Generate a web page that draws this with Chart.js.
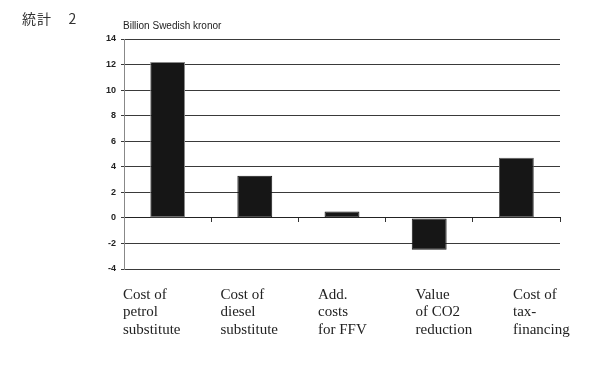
<!DOCTYPE html>
<html>
<head>
<meta charset="utf-8">
<script src="https://cdn.jsdelivr.net/npm/chart.js@4/dist/chart.umd.min.js"></script>
<style>
  html, body { margin: 0; padding: 0; background: #fff; }
  #wrap { position: relative; width: 600px; height: 365px; }
  #fig { position: absolute; left: 22px; top: 8px; font: 14px "Noto Sans CJK JP", "Liberation Serif", serif; color: #333; letter-spacing: 1px; }
  #unit { position: absolute; left: 123px; top: 20px; font: 10px "Liberation Sans", Arial, sans-serif; color: #222; }
</style>
</head>
<body>
<div id="wrap">
  <div id="fig">統計&nbsp;&nbsp;&nbsp;&nbsp;2</div>
  <div id="unit">Billion Swedish kronor</div>
  <canvas id="chart" width="600" height="365"></canvas>
</div>
<script>
const categories = [
  ['Cost of', 'petrol', 'substitute'],
  ['Cost of', 'diesel', 'substitute'],
  ['Add.', 'costs', 'for FFV'],
  ['Value', 'of CO2', 'reduction'],
  ['Cost of', 'tax-', 'financing']
];
const values = [12.2, 3.3, 0.5, -2.5, 4.7];
const yMin = -4;
const yMax = 14;
const yStep = 2;

// category labels sit under the plot, left aligned, wider spaced than the bars
const bottomLabels = {
  id: 'bottomLabels',
  afterDraw(chart) {
    const ctx = chart.ctx;
    const xs = chart.scales.x;
    const step = 97.5;
    ctx.save();
    ctx.font = '15px "Liberation Serif", "Times New Roman", serif';
    ctx.fillStyle = '#222';
    ctx.textAlign = 'left';
    ctx.textBaseline = 'middle';
    categories.forEach((lines, i) => {
      const x = xs.left - 1 + i * step;
      lines.forEach((t, j) => ctx.fillText(t, x, 295 + j * 17.5));
    });
    ctx.restore();
  }
};

new Chart(document.getElementById('chart'), {
  type: 'bar',
  data: {
    labels: categories.map(c => c.join(' ')),
    datasets: [{
      data: values,
      backgroundColor: '#161616',
      borderColor: ['#8a8a8a', '#161616', '#161616', '#161616', '#5a5a5a'],
      borderWidth: 1,
      borderSkipped: false,
      categoryPercentage: 1,
      barPercentage: 0.4
    }]
  },
  options: {
    responsive: false,
    animation: false,
    layout: { padding: { top: 39, right: 40, bottom: 96, left: 0 } },
    plugins: {
      legend: { display: false },
      tooltip: { enabled: false }
    },
    scales: {
      x: {
        position: { y: 0 },
        offset: true,
        grid: {
          offset: true,
          drawOnChartArea: false,
          drawTicks: true,
          tickLength: 4,
          color: '#333'
        },
        border: { display: true, color: '#222' },
        ticks: { display: false }
      },
      y: {
        min: yMin,
        max: yMax,
        afterFit: s => { s.width = 124; },
        ticks: {
          stepSize: yStep,
          padding: 5,
          color: '#222',
          font: { family: '"Liberation Sans", Arial, sans-serif', size: 9, weight: 'bold' }
        },
        grid: { color: '#3a3a3a', lineWidth: 1, tickLength: 3 },
        border: { display: true, color: '#888' }
      }
    }
  },
  plugins: [bottomLabels]
});
</script>
</body>
</html>
